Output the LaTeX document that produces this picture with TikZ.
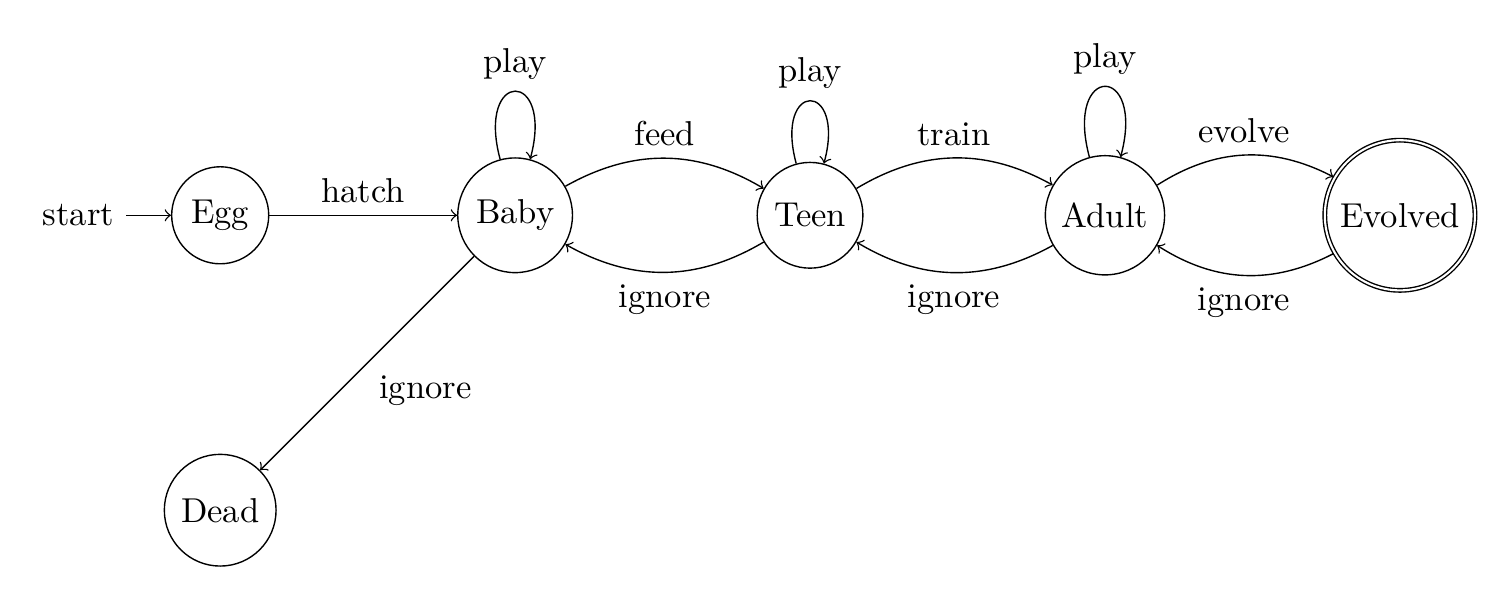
\documentclass[tikz,border=0pt]{standalone}
\usepackage{amsmath,amssymb}
\usepackage{tikz}
\usetikzlibrary{automata,positioning}

\begin{document}
\begin{tikzpicture}[
  node distance=3cm,
  on grid,
  auto,
  >=to,
  pet/.style={state},
  flow/.style={->}
]
  \useasboundingbox (-2.24,-3.91) rectangle (13.10,2.19);

  \node[pet, initial, initial text=start] (egg) {Egg};
  \node[pet, right=of egg] (baby) {Baby};
  \node[pet, right=of baby] (teen) {Teen};
  \node[pet, right=of teen] (adult) {Adult};
  \node[pet, accepting, right=of adult] (evolved) {Evolved};
  \node[pet, below=of egg] (dead) {Dead};

  \draw[flow] (egg) -- node {hatch} (baby);
  \draw[flow] (baby) to[loop above] node {play} (baby);
  \draw[flow] (baby) to[bend left] node {feed} (teen);
  \draw[flow] (baby) -- node {ignore} (dead);
  \draw[flow] (teen) to[loop above] node {play} (teen);
  \draw[flow] (teen) to[bend left] node {ignore} (baby);
  \draw[flow] (teen) to[bend left] node {train} (adult);
  \draw[flow] (adult) to[loop above] node {play} (adult);
  \draw[flow] (adult) to[bend left] node {ignore} (teen);
  \draw[flow] (adult) to[bend left] node {evolve} (evolved);
  \draw[flow] (evolved) to[bend left] node {ignore} (adult);
\end{tikzpicture}
\end{document}
